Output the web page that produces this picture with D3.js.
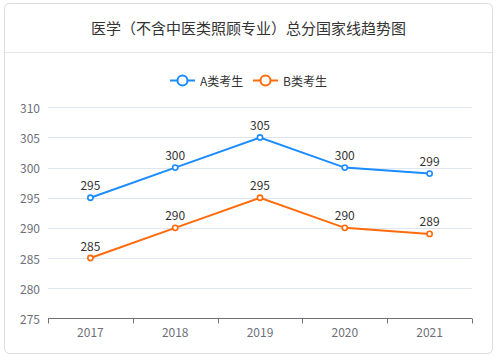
<!DOCTYPE html>
<html><head><meta charset="utf-8">
<script src="https://cdn.jsdelivr.net/npm/d3@7"></script>
<style>
html,body{margin:0;padding:0;background:#fff;}
svg{display:block;font-family:"Noto Sans CJK SC","Noto Sans",sans-serif;}
</style></head>
<body><svg id="c" width="497" height="359"></svg>
<script>
const title = "医学（不含中医类照顾专业）总分国家线趋势图";
const years = ["2017","2018","2019","2020","2021"];
const seriesNames = ["A类考生","B类考生"];
const seriesA = [295,300,305,300,299];
const seriesB = [285,290,295,290,289];
const yTicks = [275,280,285,290,295,300,305,310];
const colors = ["#1a8cff","#ff6a0a"];

const svg = d3.select("#c");
// card
svg.append("rect").attr("x",4.5).attr("y",3.5).attr("width",488).attr("height",350)
  .attr("rx",5).attr("fill","#fff").attr("stroke","#dcdcdc");
svg.append("line").attr("x1",5).attr("x2",492).attr("y1",52.5).attr("y2",52.5).attr("stroke","#e4e4e4");
svg.append("text").attr("x",248.5).attr("y",27).attr("text-anchor","middle").attr("dominant-baseline","central")
  .attr("font-size",15).attr("fill","#333").text(title);

const x = d3.scaleBand().domain(years).range([48,472]);
const y = d3.scaleLinear().domain([275,310]).range([318.3,107.3]);

// grid
svg.append("g").selectAll("line").data(yTicks.filter(d=>d>275)).join("line")
  .attr("x1",48).attr("x2",472).attr("y1",d=>Math.round(y(d))+0.5).attr("y2",d=>Math.round(y(d))+0.5)
  .attr("stroke","#e0e6f1");
// y labels
svg.append("g").selectAll("text").data(yTicks).join("text")
  .attr("x",40).attr("y",d=>y(d)).attr("text-anchor","end").attr("dominant-baseline","central")
  .attr("font-size",12).attr("fill","#6e7079").text(d=>d);
// x axis
const xAxis = d3.axisBottom(x).tickSize(0).tickPadding(0);
const gx = svg.append("g").attr("transform","translate(0,318.5)");
gx.append("line").attr("x1",48).attr("x2",472).attr("stroke","#6e7079");
const bounds = years.map(d=>x(d)).concat([472]);
gx.selectAll("line.t").data(bounds).join("line").attr("class","t")
  .attr("x1",d=>Math.round(d)+0.5).attr("x2",d=>Math.round(d)+0.5).attr("y1",0).attr("y2",5).attr("stroke","#6e7079");
gx.selectAll("text").data(years).join("text")
  .attr("x",d=>x(d)+x.bandwidth()/2).attr("y",13).attr("text-anchor","middle").attr("dominant-baseline","central")
  .attr("font-size",12).attr("fill","#6e7079").text(d=>d);

const line = d3.line().x((d,i)=>x(years[i])+x.bandwidth()/2).y(d=>y(d));
[seriesA, seriesB].forEach((s,k)=>{
  const g = svg.append("g");
  g.append("path").datum(s).attr("d",line).attr("fill","none").attr("stroke",colors[k]).attr("stroke-width",2);
  g.selectAll("circle").data(s).join("circle")
    .attr("cx",(d,i)=>x(years[i])+x.bandwidth()/2).attr("cy",d=>y(d)).attr("r",2.6)
    .attr("fill","#fff").attr("stroke",colors[k]).attr("stroke-width",1.6);
  g.selectAll("text").data(s).join("text")
    .attr("x",(d,i)=>x(years[i])+x.bandwidth()/2).attr("y",d=>y(d)-13).attr("text-anchor","middle")
    .attr("dominant-baseline","central").attr("font-size",12).attr("fill","#333").text(d=>d);
});

// legend
const legX = [170, 253];
seriesNames.forEach((n,k)=>{
  const g = svg.append("g").attr("transform",`translate(${legX[k]},80.5)`);
  g.append("line").attr("x1",0).attr("x2",25).attr("stroke",colors[k]).attr("stroke-width",2);
  g.append("circle").attr("cx",12.5).attr("cy",0).attr("r",5).attr("fill","#fff").attr("stroke",colors[k]).attr("stroke-width",2);
  g.append("text").attr("x",30).attr("y",0).attr("dominant-baseline","central")
    .attr("font-size",12).attr("fill","#333").text(n);
});
</script></body></html>
